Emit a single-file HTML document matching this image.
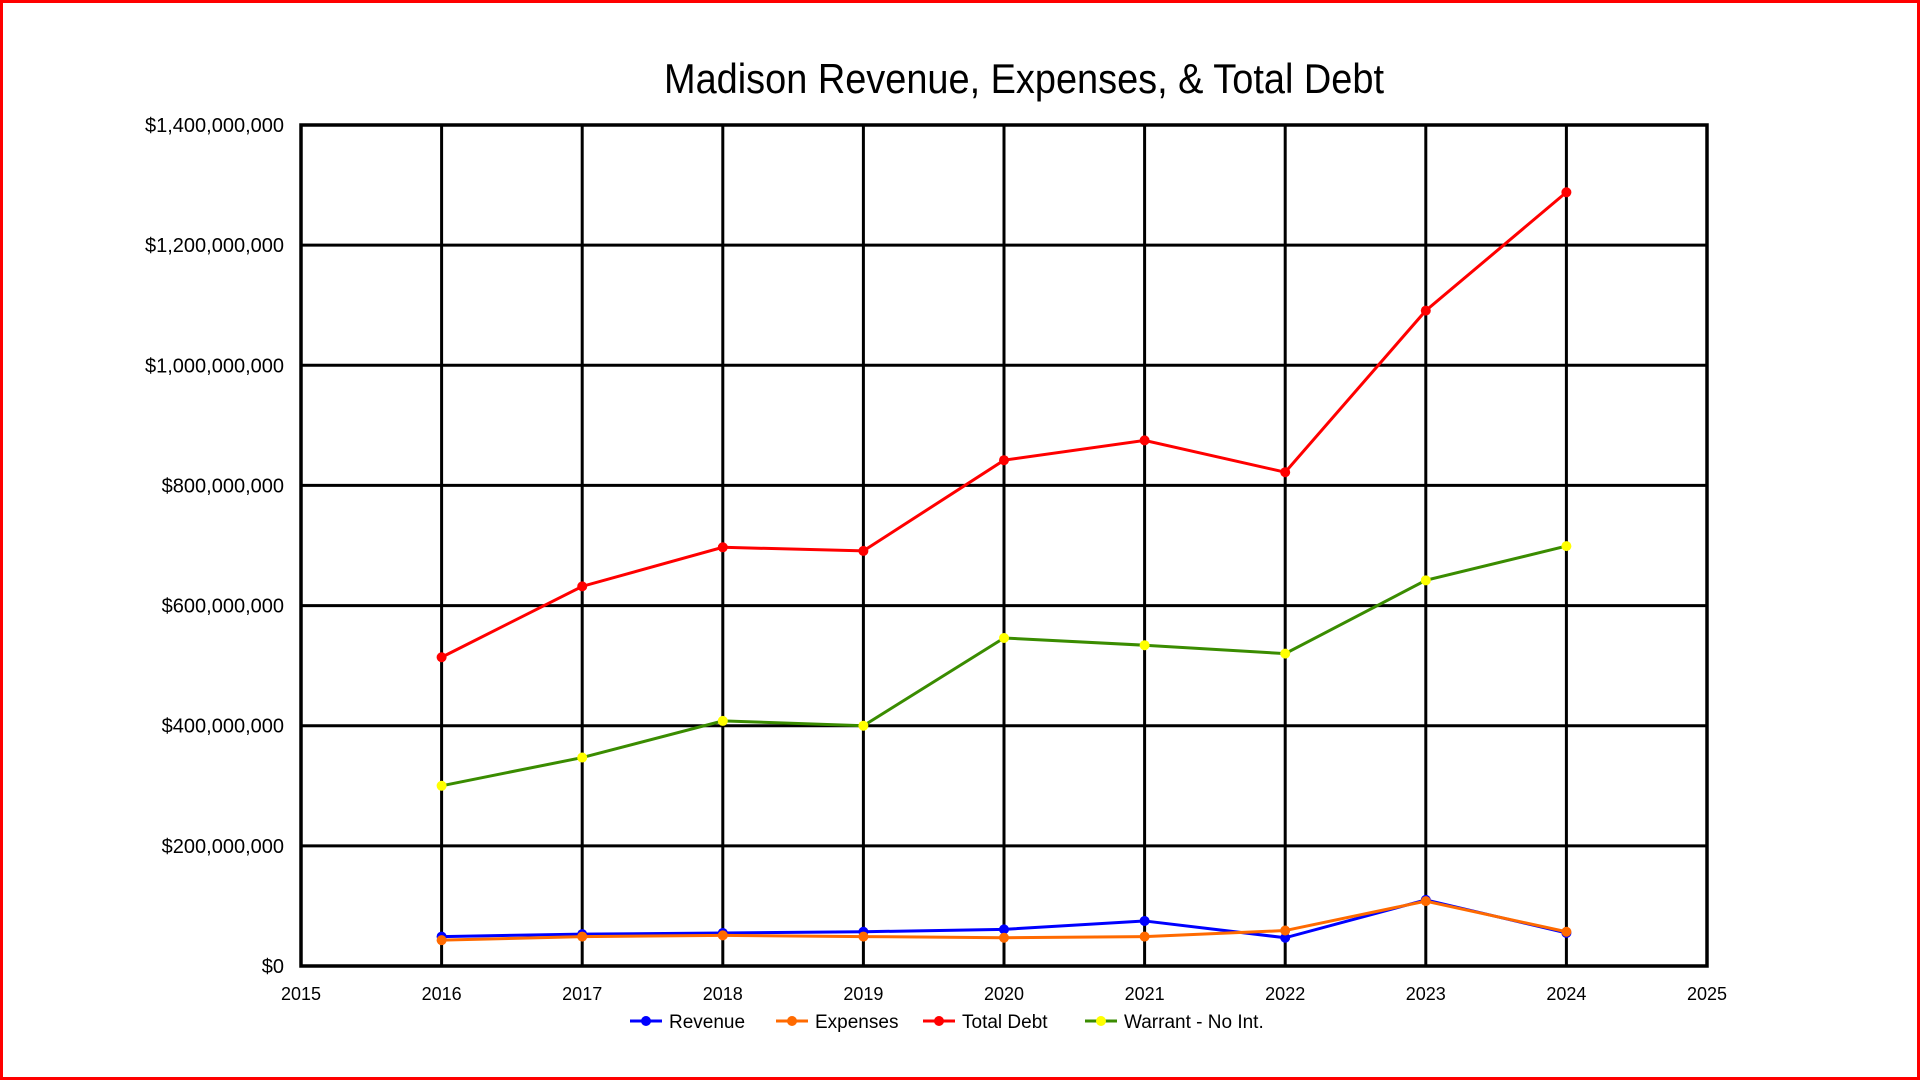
<!DOCTYPE html>
<html><head><meta charset="utf-8"><style>
html,body{margin:0;padding:0;background:#fff;}
svg{display:block;}
text{font-family:"Liberation Sans Narrow","Liberation Sans",sans-serif;fill:#000;}
</style></head><body>
<svg id="chart" width="1920" height="1080" viewBox="0 0 1920 1080">
<rect x="1.5" y="1.5" width="1917" height="1077" fill="#fff" stroke="#ff0000" stroke-width="3"/>
<text x="664" y="93" font-size="42" textLength="720" lengthAdjust="spacingAndGlyphs">Madison Revenue, Expenses, &amp; Total Debt</text>
<g id="grid"></g>
<g id="series"></g>
<g id="axes"></g>
<g id="legend"></g>
</svg>
<script>
const years = [2016,2017,2018,2019,2020,2021,2022,2023,2024];
const revenue = [49,53,55,57,61,75,47,110,55];
const expenses = [43,49,51,49,47,49,59,108,57];
const totalDebt = [514,632,697,691,842,875,822,1091,1288];
const warrant = [300,347,408,400,546,534,520,642,699];
const yTicks = [0,200,400,600,800,1000,1200,1400];
const yTickLabels = ["$0","$200,000,000","$400,000,000","$600,000,000","$800,000,000","$1,000,000,000","$1,200,000,000","$1,400,000,000"];
const xTicks = [2015,2016,2017,2018,2019,2020,2021,2022,2023,2024,2025];

const L=301,R=1707,T=125,B=966;
const xS=v=>L+(v-2015)/(2025-2015)*(R-L);
const yS=v=>B-v/1400*(B-T);
const NS="http://www.w3.org/2000/svg";
function mk(tag,parent,attrs){const e=document.createElementNS(NS,tag);for(const k in attrs)e.setAttribute(k,attrs[k]);parent.appendChild(e);return e;}
const grid=document.getElementById('grid'),series=document.getElementById('series'),axes=document.getElementById('axes'),legend=document.getElementById('legend');

yTicks.forEach((t,i)=>{
  const ln=mk('line',grid,{x1:L,x2:R,y1:yS(t),y2:yS(t),stroke:'#000','stroke-width':3});
  
  
  const tx=mk('text',axes,{x:284,y:yS(t)+7,'text-anchor':'end','font-size':20});
  tx.textContent=yTickLabels[i];
  
  
});
xTicks.forEach(t=>{
  const ln=mk('line',grid,{x1:xS(t),x2:xS(t),y1:T,y2:B,stroke:'#000','stroke-width':3});
  
  
  const tx=mk('text',axes,{x:xS(t),y:1000,'text-anchor':'middle','font-size':18});
  tx.textContent=String(t);
  
  
});
const frame=mk('rect',grid,{x:L,y:T,width:R-L,height:B-T,fill:'none',stroke:'#000','stroke-width':3.5});



const defs=[
  {name:'revenue',vals:revenue,line:'#0000ff',mark:'#0000ff',label:'Revenue'},
  {name:'expenses',vals:expenses,line:'#ff6a00',mark:'#ff6a00',label:'Expenses'},
  {name:'total-debt',vals:totalDebt,line:'#ff0000',mark:'#ff0000',label:'Total Debt'},
  {name:'warrant',vals:warrant,line:'#3a8c00',mark:'#ffff00',label:'Warrant - No Int.'}
];
defs.forEach(d=>{
  const pts=d.vals.map((v,i)=>xS(years[i])+','+yS(v)).join(' ');
  const pl=mk('polyline',series,{points:pts,fill:'none',stroke:d.line,'stroke-width':3});
  
  
  d.vals.forEach((v,i)=>{
    const c=mk('circle',series,{cx:xS(years[i]),cy:yS(v),r:5,fill:d.mark});
    
    
  });
});

const legX=[630,776,923,1085];
defs.forEach((d,i)=>{
  const x=legX[i],y=1021;
  const ln=mk('line',legend,{x1:x,x2:x+32,y1:y,y2:y,stroke:d.line,'stroke-width':3});
  
  
  const c=mk('circle',legend,{cx:x+16,cy:y,r:5,fill:d.mark});
  
  
  const t=mk('text',legend,{x:x+39,y:y+7,'font-size':19});
  t.textContent=d.label;
  
  
});
</script>
</body></html>
